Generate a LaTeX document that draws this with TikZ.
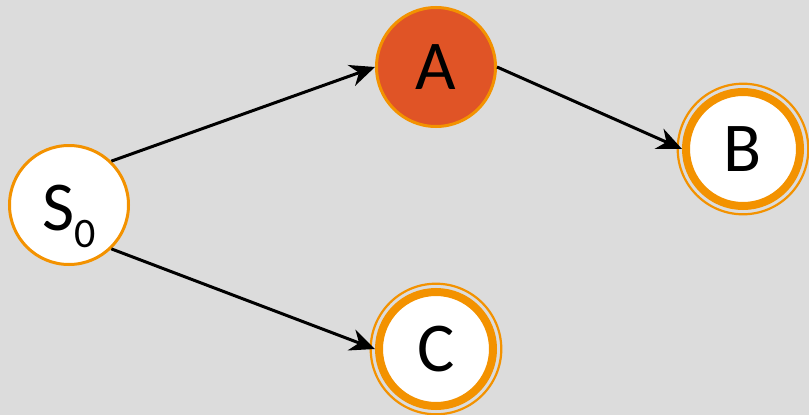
\documentclass[tikz,border=0pt]{standalone}
\usepackage{fontspec}
\setmainfont{Carlito}
\usetikzlibrary{arrows.meta}
\definecolor{bg}{HTML}{DCDCDC}
\definecolor{ring}{HTML}{F39200}
\definecolor{afill}{HTML}{E05426}
\begin{document}
\begin{tikzpicture}[x=1pt,y=-1pt,
  state/.style={circle,draw=ring,line width=3pt,fill=white,minimum size=119pt,inner sep=0pt,
    font=\fontsize{70}{70}\selectfont},
  accstate/.style={circle,draw=ring,line width=8pt,fill=white,minimum size=114pt,inner sep=0pt,
    font=\fontsize{70}{70}\selectfont},
  outerring/.style={draw=ring,line width=2.2pt},
  conn/.style={line width=3pt,-{Stealth[length=25pt,width=22pt,inset=8pt]}}]
\fill[bg] (0,0) rectangle (809,415);
\useasboundingbox (0,0) rectangle (809,415);
\node[state] (S0) at (69,205) {};
\node[anchor=base,font=\fontsize{70}{70}\selectfont] (S0txt) at (69.5,230) {S\raisebox{-17pt}{\fontsize{42}{42}\selectfont 0}};
\node[state,fill=afill] (A) at (436,67) {A};
\draw[outerring] (743,149) circle (65.3);
\node[accstate] (B) at (743,149) {B};
\draw[outerring] (436,349) circle (65.3);
\node[accstate] (C) at (436,349) {C};
\draw[conn] (S0.46) -- (A.west);
\draw[conn] (S0.-46) -- (C.west);
\draw[conn] (A.east) -- (B.west);
\end{tikzpicture}
\end{document}
